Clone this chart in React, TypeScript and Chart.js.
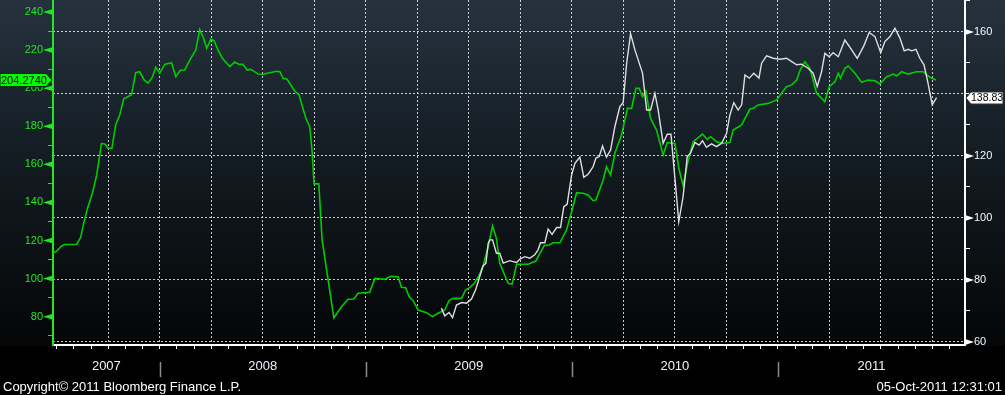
import { useEffect, useRef } from 'react';
import { Chart, registerables } from 'chart.js';

Chart.register(...registerables);

// ---------- data (decimal years, values) ----------
const greenDates = [
  2007.482, 2007.500, 2007.524, 2007.539, 2007.597, 2007.617, 2007.631, 2007.650, 2007.675, 2007.694,
  2007.717, 2007.733, 2007.749, 2007.768, 2007.786, 2007.806, 2007.825, 2007.863, 2007.883, 2007.903,
  2007.924, 2007.943, 2007.963, 2007.981, 2008.000, 2008.024, 2008.057, 2008.078, 2008.100, 2008.121,
  2008.146, 2008.175, 2008.194, 2008.210, 2008.228, 2008.248, 2008.264, 2008.283, 2008.304, 2008.340,
  2008.364, 2008.385, 2008.404, 2008.424, 2008.442, 2008.477, 2008.501, 2008.567, 2008.583, 2008.599,
  2008.618, 2008.655, 2008.676, 2008.709, 2008.728, 2008.739, 2008.749, 2008.772, 2008.788, 2008.845,
  2008.882, 2008.914, 2008.942, 2008.963, 2009.019, 2009.044, 2009.092, 2009.121, 2009.157, 2009.173,
  2009.194, 2009.210, 2009.230, 2009.254, 2009.295, 2009.324, 2009.351, 2009.383, 2009.404, 2009.424,
  2009.465, 2009.484, 2009.505, 2009.526, 2009.550, 2009.569, 2009.594, 2009.615, 2009.634, 2009.650,
  2009.691, 2009.710, 2009.732, 2009.788, 2009.825, 2009.866, 2009.890, 2009.909, 2009.942, 2009.974,
  2009.999, 2010.023, 2010.055, 2010.079, 2010.103, 2010.117, 2010.152, 2010.168, 2010.188, 2010.209,
  2010.241, 2010.270, 2010.290, 2010.311, 2010.327, 2010.343, 2010.359, 2010.382, 2010.411, 2010.443,
  2010.463, 2010.500, 2010.521, 2010.540, 2010.565, 2010.589, 2010.634, 2010.657, 2010.673, 2010.702,
  2010.734, 2010.767, 2010.783, 2010.824, 2010.864, 2010.880, 2010.904, 2010.953, 2010.994, 2011.018,
  2011.042, 2011.067, 2011.091, 2011.107, 2011.131, 2011.155, 2011.188, 2011.228, 2011.249, 2011.277,
  2011.293, 2011.304, 2011.325, 2011.341, 2011.374, 2011.406, 2011.438, 2011.471, 2011.495, 2011.528,
  2011.560, 2011.576, 2011.600, 2011.632, 2011.673, 2011.705, 2011.738, 2011.767,
];
const greenValues = [
  113.3, 114.5, 117.1, 117.9, 117.9, 121.8, 129.2, 137.1, 145.5, 154.4,
  170.9, 170.7, 168.4, 168.4, 180.7, 185.9, 194.3, 196.6, 208.1, 208.6,
  204.3, 202.6, 205.5, 211.0, 207.8, 212.5, 213.4, 206.0, 209.4, 209.5,
  214.8, 220.0, 230.9, 227.0, 220.9, 225.7, 224.8, 220.0, 215.7, 211.3,
  213.7, 212.5, 212.5, 209.5, 209.9, 207.4, 207.3, 208.9, 208.6, 205.2,
  204.7, 198.5, 196.4, 184.2, 179.8, 167.5, 149.7, 149.7, 120.3, 79.4,
  85.2, 89.1, 89.3, 92.3, 92.8, 100.1, 99.6, 101.2, 101.0, 95.4,
  95.2, 90.5, 88.4, 83.5, 82.1, 80.0, 81.8, 83.5, 88.4, 89.6,
  89.6, 94.0, 95.2, 97.5, 101.7, 106.6, 116.7, 127.6, 121.1, 108.0,
  97.5, 97.1, 107.5, 107.5, 109.2, 117.3, 117.6, 118.8, 118.8, 125.5,
  135.1, 145.1, 144.8, 143.9, 140.9, 141.3, 151.8, 158.7, 154.4, 165.8,
  175.4, 189.4, 189.4, 199.9, 199.9, 195.5, 198.5, 184.2, 178.0, 164.9,
  171.4, 171.0, 157.0, 148.8, 162.3, 171.9, 175.9, 173.1, 174.5, 171.9,
  171.0, 171.4, 178.0, 180.7, 188.9, 189.4, 191.2, 192.0, 193.8, 197.3,
  200.8, 201.7, 204.3, 209.2, 213.9, 210.4, 197.3, 192.9, 200.8, 203.4,
  207.8, 205.2, 210.4, 211.6, 207.8, 203.1, 204.3, 203.9, 202.2, 206.0,
  207.4, 206.4, 208.6, 207.4, 208.6, 208.6, 205.7, 204.274,
];
const whiteDates = [
  2009.367, 2009.383, 2009.404, 2009.421, 2009.440, 2009.465, 2009.489, 2009.513, 2009.534, 2009.553,
  2009.569, 2009.583, 2009.594, 2009.602, 2009.615, 2009.634, 2009.650, 2009.667, 2009.699, 2009.715,
  2009.732, 2009.748, 2009.772, 2009.796, 2009.820, 2009.836, 2009.848, 2009.869, 2009.885, 2009.904,
  2009.926, 2009.945, 2009.961, 2009.977, 2009.999, 2010.015, 2010.039, 2010.058, 2010.079, 2010.103,
  2010.117, 2010.133, 2010.149, 2010.168, 2010.188, 2010.209, 2010.233, 2010.249, 2010.266, 2010.285,
  2010.306, 2010.343, 2010.363, 2010.382, 2010.403, 2010.419, 2010.443, 2010.463, 2010.481, 2010.519,
  2010.540, 2010.560, 2010.576, 2010.597, 2010.618, 2010.634, 2010.653, 2010.678, 2010.702, 2010.727,
  2010.751, 2010.767, 2010.786, 2010.807, 2010.824, 2010.840, 2010.861, 2010.883, 2010.908, 2010.921,
  2010.945, 2010.977, 2011.010, 2011.042, 2011.067, 2011.091, 2011.115, 2011.147, 2011.171, 2011.191,
  2011.212, 2011.228, 2011.249, 2011.268, 2011.293, 2011.325, 2011.358, 2011.385, 2011.417, 2011.443,
  2011.471, 2011.499, 2011.519, 2011.544, 2011.568, 2011.592, 2011.613, 2011.633, 2011.649, 2011.670,
  2011.689, 2011.709, 2011.727, 2011.749, 2011.770,
];
const whiteValues = [
  70.9, 68.4, 69.5, 67.8, 71.9, 72.7, 72.5, 73.8, 77.0, 81.1,
  84.5, 85.4, 91.8, 92.9, 92.9, 88.6, 88.6, 85.4, 86.2, 85.9,
  85.6, 86.7, 87.5, 87.0, 88.1, 89.7, 92.0, 92.0, 96.4, 94.7,
  96.9, 96.9, 103.6, 104.4, 113.9, 117.6, 119.6, 113.1, 114.1, 116.5,
  119.3, 119.8, 123.2, 119.6, 121.9, 129.5, 135.9, 137.2, 149.9, 159.4,
  154.2, 146.7, 134.8, 134.8, 140.2, 134.8, 124.1, 127.0, 127.0, 98.8,
  106.9, 119.8, 120.9, 124.3, 123.5, 124.9, 122.8, 123.9, 123.0, 124.1,
  127.3, 133.2, 137.2, 134.8, 136.5, 146.1, 145.1, 146.7, 145.1, 149.9,
  152.3, 151.5, 151.2, 151.5, 150.4, 149.4, 149.6, 148.3, 146.7, 142.4,
  147.2, 153.1, 152.0, 153.3, 152.0, 157.4, 154.2, 151.5, 155.5, 159.8,
  158.5, 153.3, 156.9, 158.5, 161.2, 158.0, 153.9, 154.4, 153.9, 154.4,
  151.5, 149.4, 144.0, 136.5, 138.83,
];

const yearLabels = ['2007', '2008', '2009', '2010', '2011'];
const leftTicks = [70, 80, 90, 100, 110, 120, 130, 140, 150, 160, 170, 180, 190, 200, 210, 220, 230, 240];
const rightTicks = [60, 70, 80, 90, 100, 110, 120, 130, 140, 150, 160, 170];
const labelStep = 20;
const xMin = 2007.482;
const xMax = 2011.908;
const leftMin = 65.1;
const leftMax = 246.3;
const rightMin = 59.0;
const rightMax = 170.3;
const copyrightText = 'Copyright\u00a9 2011 Bloomberg Finance L.P.';
const timestampText = '05-Oct-2011 12:31:01';

const FONT = "'Liberation Sans', Arial, sans-serif";
const GREEN_LINE = '#00cc00';
const GREEN_TEXT = '#22e622';
const GRID = 'rgba(235,235,235,0.85)';

const lastGreen = greenValues[greenValues.length - 1];
const lastWhite = whiteValues[whiteValues.length - 1];

function rightLabelShown(v: number) {
  return v % labelStep === 0 && Math.abs(v - lastWhite) > 4;
}

function buildXTicks() {
  const ticks: any[] = [];
  for (let m = Math.ceil(xMin * 12); m / 12 <= xMax; m++) {
    ticks.push({ value: m / 12, kind: m % 3 === 0 ? 'q' : 'm' });
  }
  yearLabels.forEach((lbl) => {
    const y = Number(lbl);
    const a = Math.max(xMin, y);
    const b = Math.min(xMax, y + 1);
    ticks.push({ value: (a + b) / 2, kind: 'y', text: lbl });
  });
  return ticks;
}

const decor = {
  id: 'decor',
  beforeDraw(chart: any) {
    const { ctx, width, height, chartArea } = chart;
    ctx.save();
    ctx.fillStyle = '#000';
    ctx.fillRect(0, 0, width, height);
    const g = ctx.createLinearGradient(0, 0, 0, chartArea.bottom);
    g.addColorStop(0, '#25323e');
    g.addColorStop(0.5, '#121a20');
    g.addColorStop(1, '#040607');
    ctx.fillStyle = g;
    ctx.fillRect(0, 0, width, chartArea.bottom + 1);
    ctx.restore();
  },
  afterDraw(chart: any) {
    const { ctx, chartArea, width } = chart;
    const yL = chart.scales.yL;
    const yR = chart.scales.yR;
    const xs = chart.scales.x;
    ctx.save();

    // left axis markers
    ctx.fillStyle = GREEN_TEXT;
    yL.ticks.forEach((t: any) => {
      if (t.value % labelStep !== 0) return;
      const y = yL.getPixelForValue(t.value);
      ctx.beginPath();
      ctx.moveTo(chartArea.left, y - 3);
      ctx.lineTo(chartArea.left, y + 3);
      ctx.lineTo(chartArea.left - 10, y);
      ctx.closePath();
      ctx.fill();
    });
    // right axis markers
    ctx.fillStyle = '#ffffff';
    yR.ticks.forEach((t: any) => {
      if (!rightLabelShown(t.value)) return;
      const y = yR.getPixelForValue(t.value);
      ctx.beginPath();
      ctx.moveTo(chartArea.right, y - 3);
      ctx.lineTo(chartArea.right, y + 3);
      ctx.lineTo(chartArea.right + 9, y);
      ctx.closePath();
      ctx.fill();
    });

    // year separators
    ctx.strokeStyle = '#8c8c8c';
    ctx.lineWidth = 1.5;
    yearLabels.forEach((lbl) => {
      const y = Number(lbl);
      if (y <= xMin || y >= xMax) return;
      const px = Math.round(xs.getPixelForValue(y)) + 0.5;
      ctx.beginPath();
      ctx.moveTo(px, chartArea.bottom + 17);
      ctx.lineTo(px, chartArea.bottom + 32);
      ctx.stroke();
    });

    // last value label, left (green)
    const gy = Math.round(yL.getPixelForValue(lastGreen));
    ctx.fillStyle = '#00ff00';
    ctx.strokeStyle = '#003300';
    ctx.lineWidth = 1;
    ctx.beginPath();
    ctx.moveTo(0, gy - 6.5);
    ctx.lineTo(46, gy - 6.5);
    ctx.lineTo(52, gy);
    ctx.lineTo(46, gy + 6.5);
    ctx.lineTo(0, gy + 6.5);
    ctx.closePath();
    ctx.fill();
    ctx.stroke();
    ctx.fillStyle = '#000';
    ctx.font = `11px ${FONT}`;
    ctx.textAlign = 'left';
    ctx.textBaseline = 'middle';
    ctx.fillText(lastGreen.toFixed(4), 1, gy + 0.5);

    // last value label, right (white)
    const wy = Math.round(yR.getPixelForValue(lastWhite));
    ctx.fillStyle = '#ffffff';
    ctx.strokeStyle = '#333';
    ctx.beginPath();
    ctx.moveTo(chartArea.right + 1, wy);
    ctx.lineTo(chartArea.right + 6, wy - 6);
    ctx.lineTo(width - 2, wy - 6);
    ctx.lineTo(width - 2, wy + 6);
    ctx.lineTo(chartArea.right + 6, wy + 6);
    ctx.closePath();
    ctx.fill();
    ctx.stroke();
    ctx.fillStyle = '#000';
    ctx.font = `10.5px ${FONT}`;
    ctx.fillText(lastWhite.toFixed(2), chartArea.right + 6, wy + 0.5);

    // footer
    ctx.fillStyle = '#ffffff';
    ctx.font = `13px ${FONT}`;
    ctx.textBaseline = 'alphabetic';
    ctx.textAlign = 'left';
    ctx.fillText(copyrightText, 3, 391);
    ctx.textAlign = 'right';
    ctx.fillText(timestampText, width - 3, 391);

    ctx.restore();
  },
};

export default function App() {
  const ref = useRef<HTMLCanvasElement>(null);

  useEffect(() => {
    document.body.style.margin = '0';
    document.body.style.background = '#000';
    const canvas = ref.current;
    if (!canvas) return;
    const xTicks = buildXTicks();

    const chart = new Chart(canvas, {
      type: 'line',
      data: {
        datasets: [
          {
            label: 'white',
            data: whiteDates.map((d, i) => ({ x: d, y: whiteValues[i] })),
            yAxisID: 'yR',
            borderColor: '#dedede',
            borderWidth: 1.4,
            pointRadius: 0,
            tension: 0,
            order: 0,
          },
          {
            label: 'green',
            data: greenDates.map((d, i) => ({ x: d, y: greenValues[i] })),
            yAxisID: 'yL',
            borderColor: GREEN_LINE,
            borderWidth: 1.6,
            pointRadius: 0,
            tension: 0,
            order: 1,
          },
        ],
      },
      options: {
        responsive: false,
        animation: false,
        events: [],
        layout: { padding: 0 },
        plugins: {
          legend: { display: false },
          tooltip: { enabled: false },
          title: { display: false },
        },
        scales: {
          x: {
            type: 'linear',
            position: 'bottom',
            min: xMin,
            max: xMax,
            afterBuildTicks: (s: any) => {
              s.ticks = xTicks.map((t) => ({ ...t }));
            },
            afterFit: (s: any) => {
              s.height = 50;
              s.paddingLeft = 0;
              s.paddingRight = 0;
            },
            grid: {
              drawOnChartArea: true,
              lineWidth: 1,
              tickLength: 4,
              color: (c: any) =>
                c.tick && c.tick.kind === 'q' && c.tick.value - xMin > 0.1 ? GRID : 'rgba(0,0,0,0)',
              tickColor: (c: any) => (c.tick && c.tick.kind !== 'y' ? '#ffffff' : 'rgba(0,0,0,0)'),
            },
            border: { display: true, color: '#ffffff', width: 2, dash: [2, 2] },
            ticks: {
              autoSkip: false,
              maxRotation: 0,
              minRotation: 0,
              padding: 10,
              color: '#eef4ff',
              font: { family: FONT, size: 13 },
              callback: (_v: any, i: number, ticks: any[]) =>
                ticks[i] && ticks[i].kind === 'y' ? ticks[i].text : '',
            },
          },
          yL: {
            type: 'linear',
            position: 'left',
            min: leftMin,
            max: leftMax,
            afterBuildTicks: (s: any) => {
              s.ticks = leftTicks.map((v) => ({ value: v }));
            },
            afterFit: (s: any) => {
              s.width = 53;
              s.paddingTop = 0;
              s.paddingBottom = 0;
            },
            grid: {
              drawOnChartArea: false,
              tickLength: 5,
              lineWidth: 1,
              color: GREEN_TEXT,
              tickColor: GREEN_TEXT,
            },
            border: { display: true, color: GREEN_TEXT, width: 2 },
            ticks: {
              padding: 5,
              color: GREEN_TEXT,
              font: { family: FONT, size: 11 },
              callback: (v: any) => (Number(v) % labelStep === 0 ? String(v) : ''),
            },
          },
          yR: {
            type: 'linear',
            position: 'right',
            min: rightMin,
            max: rightMax,
            afterBuildTicks: (s: any) => {
              s.ticks = rightTicks.map((v) => ({ value: v }));
            },
            afterFit: (s: any) => {
              s.width = 40;
              s.paddingTop = 0;
              s.paddingBottom = 0;
            },
            grid: {
              drawOnChartArea: true,
              tickLength: 5,
              lineWidth: 1,
              color: (c: any) =>
                c.tick && c.tick.value % labelStep === 0 ? GRID : 'rgba(0,0,0,0)',
              tickColor: '#ffffff',
            },
            border: { display: true, color: '#ffffff', width: 2, dash: [2, 2] },
            ticks: {
              padding: 4,
              color: '#f4f8ff',
              font: { family: FONT, size: 11 },
              callback: (v: any) => (rightLabelShown(Number(v)) ? String(v) : ''),
            },
          },
        },
      },
      plugins: [decor],
    } as any);

    return () => chart.destroy();
  }, []);

  return (
    <div style={{ width: 1005, height: 395 }}>
      <canvas ref={ref} width={1005} height={395} style={{ display: 'block', width: 1005, height: 395 }} />
    </div>
  );
}
